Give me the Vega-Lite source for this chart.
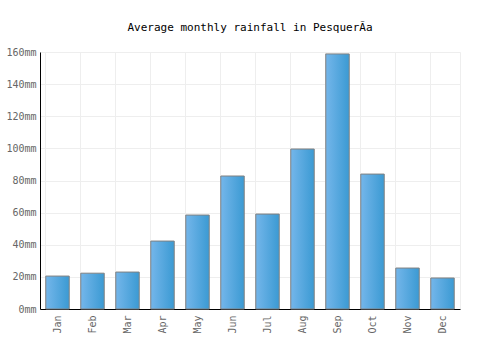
{
  "$schema": "https://vega.github.io/schema/vega-lite/v6.json",
  "width": 420,
  "height": 257,
  "autosize": {"type": "none"},
  "padding": {"left": 40, "top": 52, "right": 40, "bottom": 41},
  "background": "white",
  "title": {
    "text": "Average monthly rainfall in PesquerÃ\u00ada",
    "font": "DejaVu Sans Mono",
    "fontSize": 11,
    "fontWeight": "normal",
    "color": "#000000",
    "anchor": "middle",
    "offset": 14
  },
  "config": {"view": {"stroke": "#eeeeee"}},
  "data": {
    "values": [
      {"month": "Jan", "rain": 20.5},
      {"month": "Feb", "rain": 22.3},
      {"month": "Mar", "rain": 23},
      {"month": "Apr", "rain": 42.3},
      {"month": "May", "rain": 58.5},
      {"month": "Jun", "rain": 82.8},
      {"month": "Jul", "rain": 59.1},
      {"month": "Aug", "rain": 99.6},
      {"month": "Sep", "rain": 158.8},
      {"month": "Oct", "rain": 84},
      {"month": "Nov", "rain": 25.5},
      {"month": "Dec", "rain": 19.3}
    ]
  },
  "mark": {
    "type": "bar",
    "stroke": "#808080",
    "strokeWidth": 1,
    "color": {
      "gradient": "linear",
      "x1": 0, "y1": 0, "x2": 1, "y2": 0,
      "stops": [
        {"offset": 0, "color": "#74b6ea"},
        {"offset": 1, "color": "#3b9ad3"}
      ]
    }
  },
  "encoding": {
    "x": {
      "field": "month",
      "type": "nominal",
      "sort": null,
      "scale": {"paddingInner": 0.33, "paddingOuter": 0.165},
      "axis": {
        "title": null,
        "labelAngle": -90,
        "labelFont": "DejaVu Sans Mono",
        "labelFontSize": 10,
        "labelColor": "#666666",
        "labelPadding": 6,
        "ticks": false,
        "domainColor": "#000000",
        "grid": true,
        "bandPosition": 0,
        "gridColor": "#eeeeee"
      }
    },
    "y": {
      "field": "rain",
      "type": "quantitative",
      "scale": {"domain": [0, 160]},
      "axis": {
        "title": null,
        "values": [0, 20, 40, 60, 80, 100, 120, 140, 160],
        "labelExpr": "datum.value + 'mm'",
        "labelFont": "DejaVu Sans Mono",
        "labelFontSize": 10,
        "labelColor": "#666666",
        "labelPadding": 4,
        "ticks": false,
        "domainColor": "#000000",
        "gridColor": "#eeeeee"
      }
    }
  }
}
